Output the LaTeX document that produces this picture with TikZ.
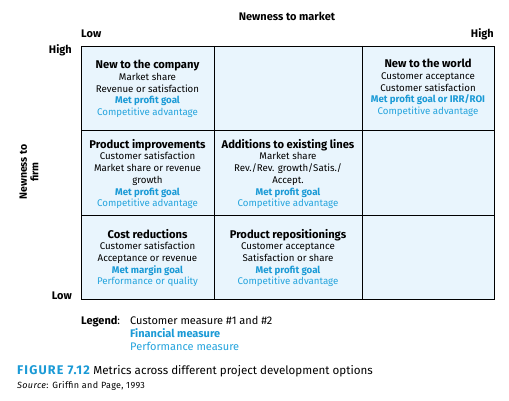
\documentclass[tikz,border=0pt]{standalone}
\usepackage{fontspec}
\setmainfont{Fira Sans}
\definecolor{cellfill}{HTML}{E9F5FD}
\definecolor{fin}{HTML}{1A9AD6}
\definecolor{perf}{HTML}{24A4DD}
\begin{document}
\begin{tikzpicture}[x=1pt,y=-1pt,
  celltext/.style={align=center,font=\fontsize{9.7}{11.7}\selectfont,inner sep=0pt},
  axislabel/.style={font=\fontsize{11}{10}\selectfont\bfseries,inner sep=0pt},
  legtext/.style={anchor=base west,inner sep=0pt,font=\fontsize{11}{12}\selectfont},
  gridline/.style={draw=black,line width=0.9pt}]
\useasboundingbox (0,0) rectangle (509,401);
\fill[white] (0,0) rectangle (509,401);
\newcommand{\hdtxt}[1]{{\fontsize{11.2}{11.7}\selectfont\bfseries #1}}
\newcommand{\fmtxt}[1]{{\color{fin}\bfseries #1}}
\newcommand{\pmtxt}[1]{{\color{perf}#1}}
% grid
\fill[cellfill] (81,46) rectangle (494,299);
\draw[gridline] (81,46) rectangle (494,299);
\draw[gridline] (214,46) -- (214,299);
\draw[gridline] (362,46) -- (362,299);
\draw[gridline] (81,130) -- (494,130);
\draw[gridline] (81,215) -- (494,215);
% axis labels
\node[axislabel] (mkt) at (287,16) {Newness to market};
\node[axislabel,anchor=west] (lowx) at (81,34) {Low};
\node[axislabel,anchor=east] (highx) at (494,34) {High};
\node[axislabel,anchor=east] (highy) at (72,50) {High};
\node[axislabel,anchor=east] (lowy) at (72,296) {Low};
\node[axislabel,rotate=90,align=center,font=\fontsize{10.5}{11.5}\selectfont\bfseries] (firm) at (29,172) {Newness to\\firm};
% cells
\node[celltext] (c11) at (147.5,89) {\hdtxt{New to the company}\\Market share\\Revenue or satisfaction\\\fmtxt{Met profit goal}\\\pmtxt{Competitive advantage}};
\node[celltext] (c13) at (428,88) {\hdtxt{New to the world}\\Customer acceptance\\Customer satisfaction\\\fmtxt{Met profit goal or IRR/ROI}\\\pmtxt{Competitive advantage}};
\node[celltext] (c21) at (147.5,174) {\hdtxt{Product improvements}\\Customer satisfaction\\Market share or revenue\\growth\\\fmtxt{Met profit goal}\\\pmtxt{Competitive advantage}};
\node[celltext] (c22) at (288,174) {\hdtxt{Additions to existing lines}\\Market share\\Rev./Rev. growth/Satis./\\Accept.\\\fmtxt{Met profit goal}\\\pmtxt{Competitive advantage}};
\node[celltext] (c31) at (147.5,258) {\hdtxt{Cost reductions}\\Customer satisfaction\\Acceptance or revenue\\\fmtxt{Met margin goal}\\\pmtxt{Performance or quality}};
\node[celltext] (c32) at (288,258) {\hdtxt{Product repositionings}\\Customer acceptance\\Satisfaction or share\\\fmtxt{Met profit goal}\\\pmtxt{Competitive advantage}};
% legend
\node[legtext] (leg) at (81,324) {\textbf{Legend}:};
\node[legtext] (leg1) at (130,324) {Customer measure \#1 and \#2};
\node[legtext] (leg2) at (130,337) {\fmtxt{Financial measure}};
\node[legtext] (leg3) at (130,350) {\pmtxt{Performance measure}};
% caption
\node[anchor=base west,inner sep=0pt,font=\fontsize{11.6}{13}\selectfont] (cap) at (17,374) {{\color{fin}\fontsize{12.6}{13}\selectfont\bfseries\addfontfeatures{LetterSpace=9}FIGURE 7.12}\hspace{0.3em}Metrics across different project development options};
\node[anchor=base west,inner sep=0pt,font=\fontsize{9}{10}\selectfont\addfontfeatures{LetterSpace=4}] (src) at (17,388) {\textit{Source}: Griffin and Page, 1993};
\end{tikzpicture}
\end{document}
